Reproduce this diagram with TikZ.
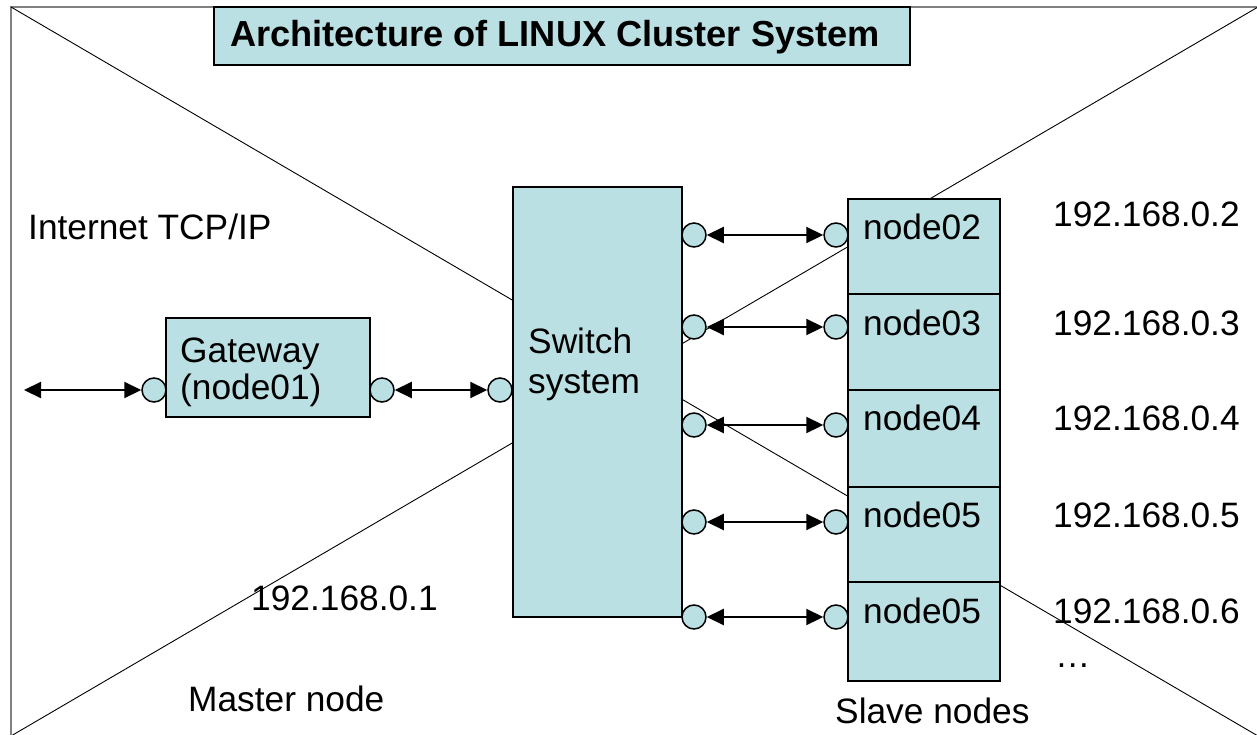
\documentclass[tikz,border=0pt]{standalone}
\usepackage{fontspec}
\setmainfont{Liberation Sans}
\usetikzlibrary{arrows.meta}
\definecolor{boxfill}{RGB}{187,224,227}
\begin{document}
\begin{tikzpicture}[x=1pt,y=-1pt,
  txt/.style={inner sep=0pt, font=\fontsize{35.3}{38}\selectfont},
  blk/.style={draw=black, line width=2pt, fill=boxfill, inner sep=0pt},
  port/.style={circle, draw=black, line width=1.5pt, fill=boxfill, minimum size=24pt, inner sep=0pt},
  link/.style={line width=2.2pt, {Triangle[length=17pt 0 0,width=16pt 0 0]}-{Triangle[length=17pt 0 0,width=16pt 0 0]}},
  frameline/.style={draw=gray, line width=2pt},
  crossline/.style={draw=black, line width=0.9pt}]
\useasboundingbox (0,0) rectangle (1257,735);
% frame and cross
\coordinate (tl) at (11,7);
\coordinate (tr) at (1258,7);
\coordinate (bl) at (11,736);
\coordinate (br) at (1258,736);
\draw[frameline] (bl) -- (tl) -- (tr);
\draw[crossline] (tl) -- (br);
\draw[crossline] (tr) -- (bl);
% title
\node[blk, minimum width=696pt, minimum height=58pt] (titlebox) at (562,36) {};
\node[txt, font=\fontsize{36.2}{38}\selectfont\bfseries, anchor=base west] (title) at (230,47) {Architecture of LINUX Cluster System};
% boxes
\node[blk, minimum width=204pt, minimum height=99pt] (gw) at (268,367.5) {};
\node[blk, minimum width=169pt, minimum height=430pt] (sw) at (597.5,402) {};
\node[blk, minimum width=152pt, minimum height=95pt] (s2) at (924,246.5) {};
\node[blk, minimum width=152pt, minimum height=96pt] (s3) at (924,342) {};
\node[blk, minimum width=152pt, minimum height=97pt] (s4) at (924,438.5) {};
\node[blk, minimum width=152pt, minimum height=95pt] (s5) at (924,534.5) {};
\node[blk, minimum width=152pt, minimum height=99pt] (s6) at (924,631.5) {};
% ports
\node[port] (gwL) at (154,390) {};
\node[port] (gwR) at (382,390) {};
\node[port] (swL) at (500,390) {};
\node[port] (swR2) at (694,235) {};
\node[port] (swR3) at (694,327) {};
\node[port] (swR4) at (694,425) {};
\node[port] (swR5) at (694,522) {};
\node[port] (swR6) at (694,617) {};
\node[port] (sL2) at (836,235) {};
\node[port] (sL3) at (836,327) {};
\node[port] (sL4) at (836,425) {};
\node[port] (sL5) at (836,522) {};
\node[port] (sL6) at (836,617) {};
% links
\coordinate (net) at (24,390);
\draw[link] (net) -- (gwL);
\draw[link] (gwR) -- (swL);
\draw[link] (swR2) -- (sL2);
\draw[link] (swR3) -- (sL3);
\draw[link] (swR4) -- (sL4);
\draw[link] (swR5) -- (sL5);
\draw[link] (swR6) -- (sL6);
% texts
\node[txt, anchor=base west] (inet) at (28,240) {Internet TCP/IP};
\node[txt, font=\fontsize{35.3}{37}\selectfont, align=left, anchor=west] (gwtext) at (180,372) {Gateway\\(node01)};
\node[txt, font=\fontsize{35.3}{40}\selectfont, align=left, anchor=west] (swtext) at (528,364) {Switch\\system};
\node[txt, anchor=base west] (n2) at (863,240) {node02};
\node[txt, anchor=base west] (n3) at (863,335) {node03};
\node[txt, anchor=base west] (n4) at (863,430) {node04};
\node[txt, anchor=base west] (n5) at (863,527) {node05};
\node[txt, anchor=base west] (n6) at (863,623) {node05};
\node[txt, anchor=base west] (ip2) at (1053,227) {192.168.0.2};
\node[txt, anchor=base west] (ip3) at (1053,335) {192.168.0.3};
\node[txt, anchor=base west] (ip4) at (1053,430) {192.168.0.4};
\node[txt, anchor=base west] (ip5) at (1053,527) {192.168.0.5};
\node[txt, anchor=base west] (ip6) at (1053,623) {192.168.0.6};
\node[txt, anchor=base west] (more) at (1055,667) {…};
\node[txt, anchor=base west] (ip1) at (251,610) {192.168.0.1};
\node[txt, anchor=base west] (master) at (188,711) {Master node};
\node[txt, anchor=base west] (slave) at (835,723) {Slave nodes};
\end{tikzpicture}
\end{document}
